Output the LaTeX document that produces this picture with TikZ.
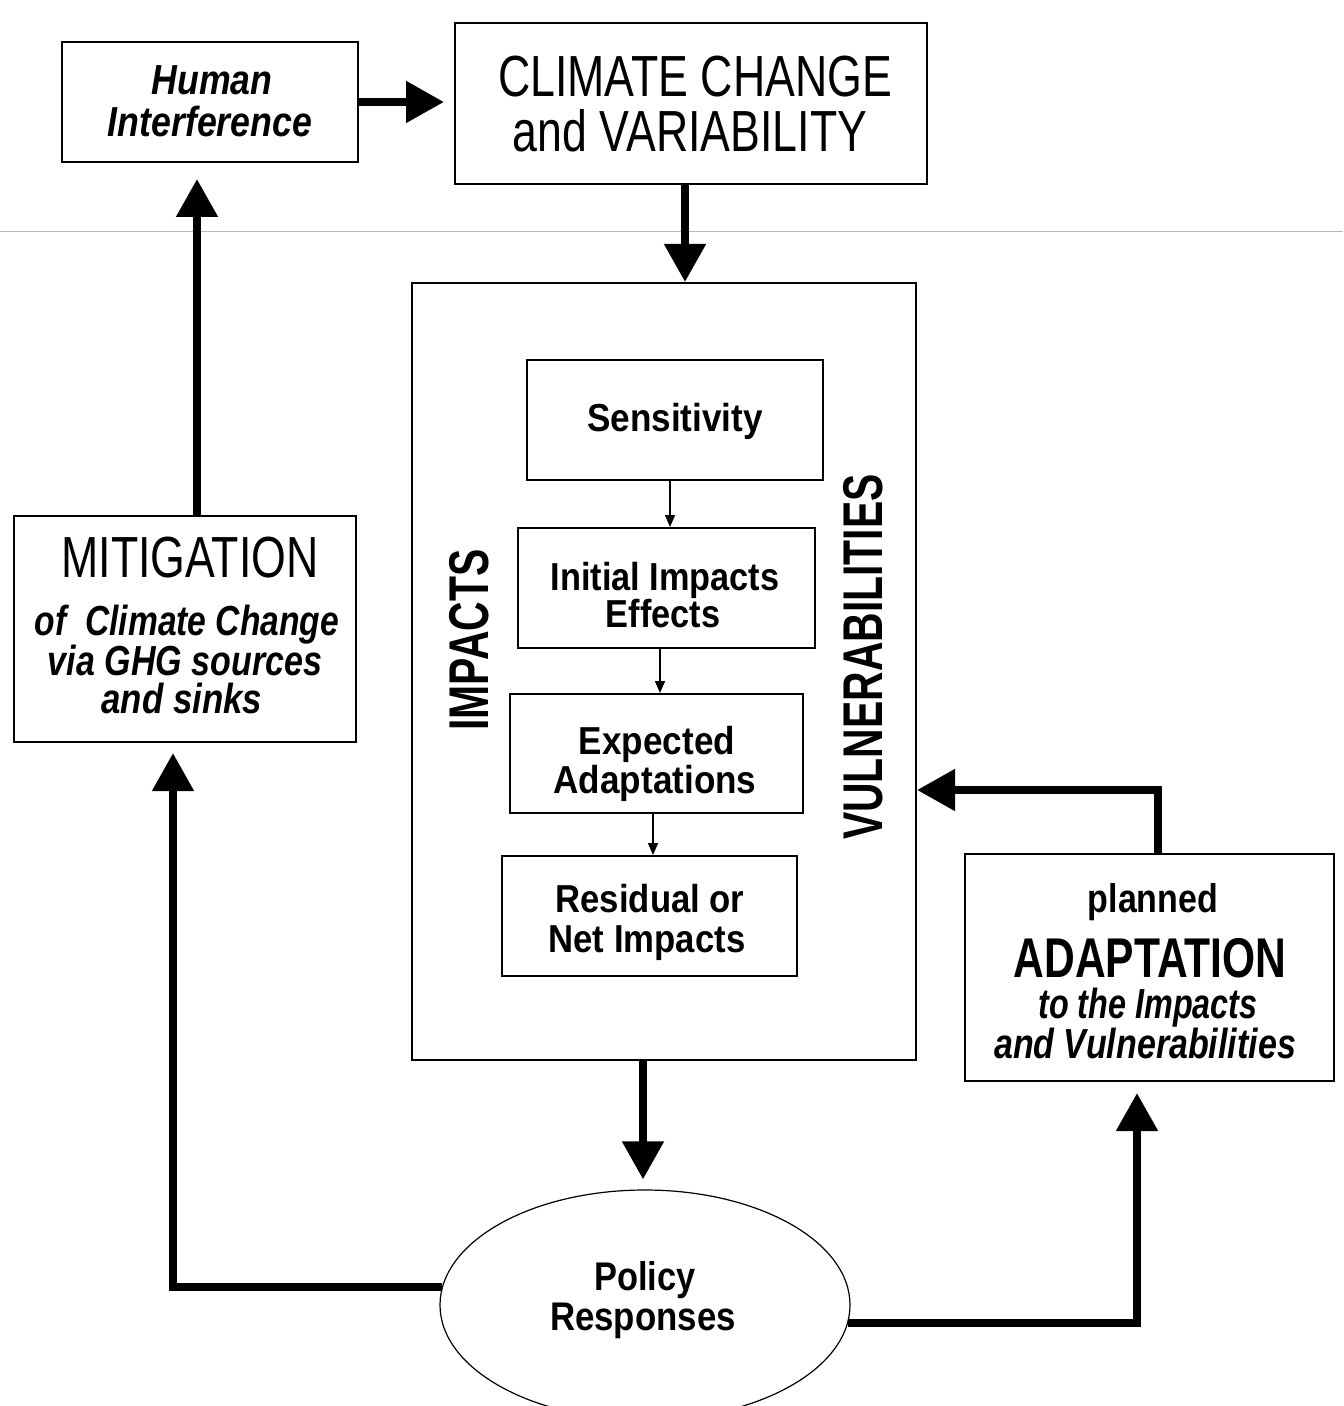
\documentclass[tikz,border=0pt]{standalone}
\usepackage{fontspec}
\setmainfont{Liberation Sans}
\usepackage{graphicx}
\usetikzlibrary{arrows.meta,shapes.geometric,fit,calc}
\newcommand\sx[2]{\scalebox{#1}[1]{#2}}
\newcommand\fs[1]{\fontsize{#1}{#1}\selectfont}
\begin{document}
\begin{tikzpicture}[x=0.5pt,y=-0.5pt,
  box/.style={draw, line width=1pt, rectangle, inner sep=0pt},
  lbl/.style={anchor=base, inner sep=0pt},
  heavy/.style={line width=4pt, -{Triangle[length=19pt,width=20pt]}},
  light/.style={line width=0.8pt, -{Triangle[length=6pt,width=5pt]}},
  caps/.style={font=\fs{29}},
  capsb/.style={font=\fs{28}\bfseries},
  inbox/.style={font=\fs{19.5}\bfseries},
  ital/.style={font=\fs{21}\bfseries\itshape}]
\useasboundingbox (0,0) rectangle (1343,1406);
\clip (0,0) rectangle (1343,1406);
\fill[white] (0,0) rectangle (1343,1406);
% faint scan line
\draw[gray!55, line width=0.5pt] (0,232) -- (1343,232);

% boxes
\node[box, fit={(62,42) (358,162)}] (human) {};
\node[box, fit={(455,23) (927,184)}] (climate) {};
\node[box, fit={(412,283) (916,1060)}] (big) {};
\node[box, fit={(527,360) (823,480)}] (sens) {};
\node[box, fit={(518,528) (815,648)}] (init) {};
\node[box, fit={(510,694) (803,813)}] (expct) {};
\node[box, fit={(502,856) (797,976)}] (resid) {};
\node[box, fit={(14,516) (356,742)}] (mitig) {};
\node[box, fit={(965,854) (1334,1081)}] (adapt) {};
\node[draw, ellipse, line width=0.6pt, minimum width=205pt, minimum height=115pt, inner sep=0pt] (policy) at (645,1305) {};

% texts
\node[lbl, ital] (th1) at (212,95) {\sx{0.85}{Human}};
\node[lbl, ital] (th2) at (210,137) {\sx{0.85}{Interference}};
\node[lbl, caps] (tc1) at (695,97) {\sx{0.77}{CLIMATE CHANGE}};
\node[lbl, caps] (tc2) at (690,152) {\sx{0.77}{and VARIABILITY}};
\node[lbl, inbox] (ts) at (675,431) {\sx{0.9}{Sensitivity}};
\node[lbl, inbox] (ti1) at (665,590) {\sx{0.88}{Initial Impacts}};
\node[lbl, inbox] (ti2) at (663,627) {\sx{0.88}{Effects}};
\node[lbl, inbox] (te1) at (657,754) {\sx{0.9}{Expected}};
\node[lbl, inbox] (te2) at (655,793) {\sx{0.9}{Adaptations}};
\node[lbl, inbox] (tr1) at (650,912) {\sx{0.89}{Residual or}};
\node[lbl, inbox] (tr2) at (647,952) {\sx{0.89}{Net Impacts}};
\node[lbl, capsb, rotate=90] (timp) at (488,640) {\sx{0.73}{IMPACTS}};
\node[lbl, capsb, rotate=90] (tvul) at (882,657) {\sx{0.73}{VULNERABILITIES}};
\node[lbl, caps] (tm1) at (190,577) {\sx{0.77}{MITIGATION}};
\node[lbl, ital] (tm2) at (187,635) {\sx{0.80}{of\ \ Climate Change}};
\node[lbl, ital] (tm3) at (185,675) {\sx{0.81}{via GHG sources}};
\node[lbl, ital] (tm4) at (182,713) {\sx{0.83}{and sinks}};
\node[lbl, font=\fs{20}\bfseries] (ta1) at (1153,912) {\sx{0.85}{planned}};
\node[lbl, capsb] (ta2) at (1150,977) {\sx{0.76}{ADAPTATION}};
\node[lbl, ital] (ta3) at (1148,1018) {\sx{0.77}{to the Impacts}};
\node[lbl, ital] (ta4) at (1145,1058) {\sx{0.81}{and Vulnerabilities}};
\node[lbl, font=\fs{20}\bfseries] (tp1) at (645,1290) {\sx{0.86}{Policy}};
\node[lbl, font=\fs{20}\bfseries] (tp2) at (643,1330) {\sx{0.87}{Responses}};

% helper coordinates
\coordinate (cx) at (685,0);
\coordinate (px) at (643,0);
\coordinate (mx) at (197,0);
\coordinate (a1) at (670,0);
\coordinate (a2) at (660,0);
\coordinate (a3) at (653,0);
\coordinate (lc) at (173,0);
\coordinate (rc) at (1137,0);
\coordinate (ac) at (1158,790);

% heavy connectors
\draw[heavy, shorten >=5pt] (human.east) -- (climate.west |- human.east);
\draw[heavy] (climate.south -| cx) -- (big.north -| cx);
\draw[heavy, shorten >=5pt] (big.south -| px) -- (policy.north -| px);
\draw[heavy, shorten >=8pt] (mitig.north -| mx) -- (human.south -| mx);
\draw[heavy, shorten >=5pt] (policy.175) -- (policy.175 -| lc) -- (lc |- mitig.south);
\draw[heavy, shorten >=5.5pt] (policy.-5) -- (policy.-5 -| rc) -- (rc |- adapt.south);
\draw[heavy] (adapt.north -| ac) -- (ac) -- (ac -| big.east);

% light connectors
\draw[light] (sens.south -| a1) -- (init.north -| a1);
\draw[light] (init.south -| a2) -- (expct.north -| a2);
\draw[light] (expct.south -| a3) -- (resid.north -| a3);
\end{tikzpicture}
\end{document}
